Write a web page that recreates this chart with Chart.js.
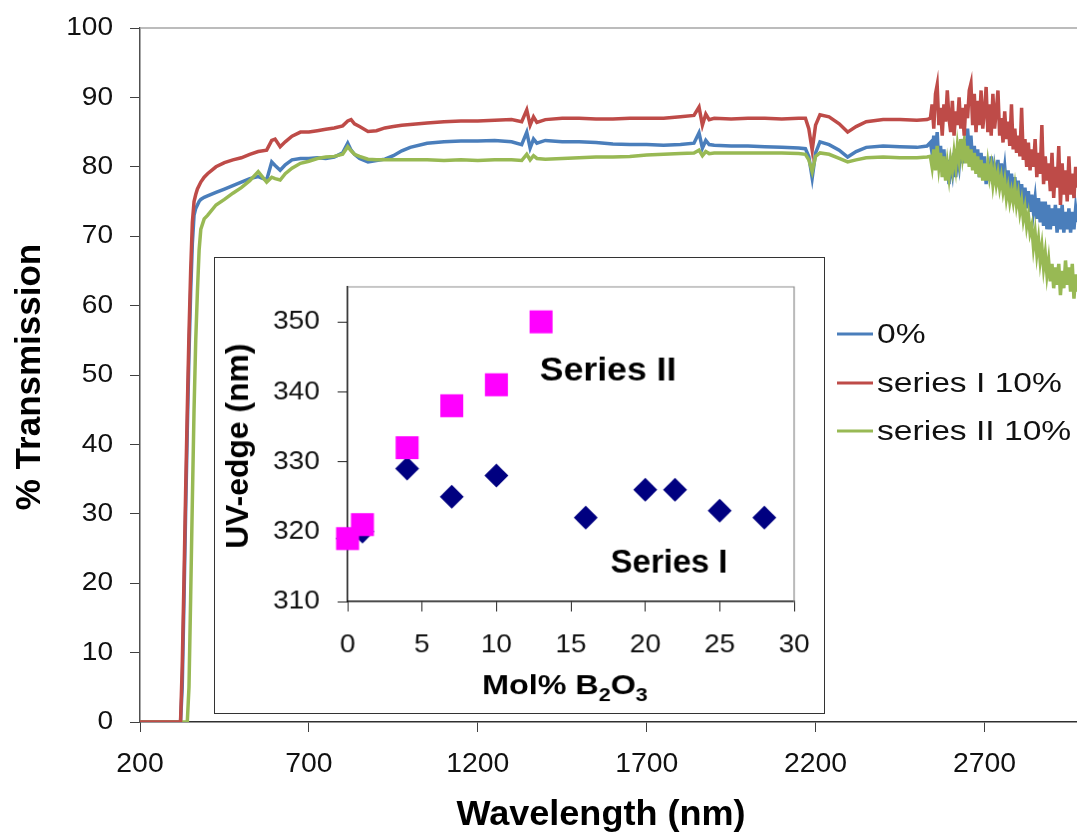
<!DOCTYPE html>
<html><head><meta charset="utf-8">
<script src="https://cdn.jsdelivr.net/npm/chart.js@4.4.1/dist/chart.umd.min.js"></script>
<style>
html,body{margin:0;padding:0;background:#fff;overflow:hidden}
#wrap{position:relative;width:1077px;height:838px;background:#fff}
#main{position:absolute;left:0;top:0}
#inset{position:absolute;left:214px;top:257px;border:1px solid #333;background:#fff}
</style></head><body>
<div id="wrap"><canvas id="main" width="1077" height="838"></canvas><canvas id="inset" width="611" height="457"></canvas></div>
<script>
// ---------- DATA ----------
const wavelengths = [
 200,250,300,310,320,325,330,335,340,345,
 350,355,360,365,370,375,380,390,400,425,
 450,475,500,525,550,575,590,600,615,630,
 650,675,700,725,750,775,800,815,825,835,
 850,875,900,925,950,975,1000,1050,1100,1150,
 1200,1250,1300,1330,1345,1355,1365,1375,1400,1450,
 1500,1550,1600,1650,1700,1750,1800,1840,1855,1865,
 1875,1885,1900,1950,2000,2050,2100,2150,2170,2180,
 2190,2200,2213,2240,2270,2295,2320,2350,2400,2450,
 2500,2530,
 2540,2545,2550,2555,2560,2565,2570,2575,2580,2585,
 2590,2595,2600,2605,2610,2615,2620,2625,2630,2635,
 2640,2645,2650,2655,2660,2665,2670,2675,2680,2685,
 2690,2695,2700,2705,2710,2715,2720,2725,2730,2735,
 2740,2745,2750,2755,2760,2765,2770,2775,2780,2785,
 2790,2795,2800,2805,2810,2815,2820,2825,2830,2835,
 2840,2845,2850,2855,2860,2865,2870,2875,2880,2885,
 2890,2895,2900,2905,2910,2915,2920,2925,2930,2935,
 2940,2945,2950,2955,2960,2965,2970,2975
];
const trans0 = [ // 0%
 0,0,0,0,0,5,17,30,42,53,
 62,69,73,74,74.5,75,75.3,75.6,75.8,76.3,
 76.8,77.3,77.8,78.3,78.6,78.1,80.7,80.2,79.5,80.3,
 81,81.2,81.2,81.3,81.2,81.4,82,83.4,82.4,81.8,
 81.2,80.7,80.9,81.1,81.6,82.3,82.8,83.4,83.6,83.7,
 83.7,83.8,83.6,83.2,85,82.7,84,83.4,83.8,83.6,
 83.6,83.5,83.3,83.2,83.2,83.1,83.2,83.4,84.9,82.7,
 83.8,83.2,83.1,83,83,82.9,82.8,82.7,82.6,81.5,
 78.4,82,83.6,83.2,82.4,81.4,82.2,82.8,83,82.9,
 82.8,83,
 83.5,82,84.5,81.5,85,80.5,83,79.5,82.5,78.5,
 81,77.5,80.5,79,82,78.5,81.5,80,83,80.5,
 84,81,85.5,82,84.5,80.5,83,79.5,82.5,78.5,
 82,79,81.5,77.5,80.5,78,81.5,77.5,80,78.5,
 81,77,80.5,78,80,77,79.5,76.5,79,76,
 78.5,75.5,78,75,77.5,74.5,77,74,76.5,73.5,
 76,73.5,75.5,72.5,75.5,72,75,71.5,75,71,
 74.5,71,74,71.5,74.5,70.5,74,71,74.5,70.5,
 73.5,71,74,70.5,73.5,71,74,72
];
const transSeriesI = [ // series I 10%
 0,0,0,0,0,8,20,33,45,56,
 65,72,75,76,76.8,77.3,77.8,78.5,79,80,
 80.6,81,81.3,81.8,82.2,82.4,83.8,84,82.9,83.6,
 84.4,85,85,85.2,85.4,85.6,85.9,86.6,86.8,86.2,
 85.8,85.1,85.2,85.6,85.8,86,86.1,86.3,86.5,86.6,
 86.6,86.7,86.8,86.5,88.2,86,87.2,86.4,86.8,87,
 87,86.9,86.9,87,87,87,87.2,87.4,88.6,86,
 87.6,86.8,87,86.9,87,87,86.9,87,87,85.5,
 82.4,86,87.5,87.2,86.2,85,85.8,86.5,86.8,86.8,
 86.7,86.8,
 87,89,85.5,90.5,91.8,86,88.5,84.5,89,86.5,
 91,87,85,89.5,84.5,88,86,90,85.5,88.5,
 84.5,89,87,91,92,86,90.5,85,89.5,86,
 91,85.5,88,91.5,85,89,84.5,90.5,85.5,88,
 91,84.5,87,83.5,88,84,86.5,83,89,82.5,
 85.5,82,84.5,81.5,88.5,81,84,80,83.5,79.5,
 82.5,80,84,78.5,82,79,86,77.5,81.5,78,
 80.5,76.5,82,75.5,80,77,83,74.5,80.5,76,
 79.5,75,81.5,76,79,75.5,80,77
];
const transSeriesII = [ // series II 10%
 0,0,0,0,0,0,0,0,0,5,
 18,32,45,55,62,68,71,72.5,73,74.5,
 75.3,76.2,77,78,79.3,77.8,78.5,78.3,78.1,79,
 79.8,80.5,80.8,81.2,81.4,81.5,81.8,82.9,82.3,81.8,
 81.5,81.1,81,81,81,81,81,81,80.9,81,
 80.9,81,81,80.9,81.8,81,81.6,81.2,81.1,81.2,
 81.3,81.4,81.4,81.5,81.7,81.8,81.9,82,82.4,81.6,
 82.2,81.9,82,82,82,82,82,81.9,81.8,81,
 79.3,81.5,82,81.8,81.2,80.7,81,81.3,81.4,81.3,
 81.3,81.4,
 81.5,80,82.5,79.5,83,80,82,78.5,81.5,78,
 80.5,78.5,81,79.5,82,80,83,81,84,81.5,
 83.5,80.5,83,80,82.5,79.5,82,79,81.5,78.5,
 81,78,80.5,78,80.5,78.5,80,77.5,79.5,77.5,
 79,77,78.5,76.5,78,75.5,77,75,76.5,75,
 77,74.5,76,73.5,75,72.5,74,71.5,73,70.5,
 71.5,68.5,70.5,67.5,69.5,66.5,68.5,65.5,67.5,64.5,
 66.5,63.5,66,62.5,65.5,63,66,61.5,65,62.5,
 66.5,63,65.5,62,66,61,64.5,62
];
const legendLabels = ['0%','series I 10%','series II 10%'];
const xTickValues = [200,700,1200,1700,2200,2700];
const yTickValues = [0,10,20,30,40,50,60,70,80,90,100];

// inset data
const molSeriesI = [0,1,4,7,10,16,20,22,25,28];
const uvSeriesI  = [319,320,329,325,328,322,326,326,323,322];
const molSeriesII = [0,1,4,7,10,13];
const uvSeriesII  = [319,321,332,338,341,350];
const insetXTicks = [0,5,10,15,20,25,30];
const insetYTicks = [310,320,330,340,350];

// ---------- STYLE ----------
const FONT = '"Liberation Sans", Arial, Helvetica, sans-serif';
const C_BLUE = '#4A7EBB', C_RED = '#BE4B48', C_GREEN = '#98B954';
const legendColors = [C_BLUE, C_RED, C_GREEN];

function drawText(ctx, txt, x, y, o) {
  ctx.save();
  ctx.font = (o.bold ? 'bold ' : '') + o.size + 'px ' + FONT;
  ctx.fillStyle = o.color || '#000';
  ctx.textAlign = o.align || 'center';
  ctx.textBaseline = 'middle';
  ctx.translate(x, y);
  if (o.rot) ctx.rotate(o.rot);
  ctx.scale(o.sx || 1, 1);
  ctx.fillText(txt, 0, 0);
  ctx.restore();
}
function pts(xs, ys) { return xs.map((x, i) => ({x: x, y: ys[i]})); }

// ---------- MAIN CHART ----------
const mainDecor = {
  id: 'mainDecor',
  afterDraw(chart) {
    const ctx = chart.ctx, a = chart.chartArea;
    const xs = chart.scales.x, ys = chart.scales.y;
    ctx.save();
    ctx.strokeStyle = '#a6a6a6'; ctx.lineWidth = 1.5;
    ctx.beginPath(); ctx.moveTo(a.left, a.top); ctx.lineTo(a.right, a.top); ctx.stroke();
    ctx.restore();
    xTickValues.forEach(v => drawText(ctx, String(v), xs.getPixelForValue(v), 765, {size: 27, sx: 1.05, color: '#111'}));
    yTickValues.forEach(v => drawText(ctx, String(v), 113, ys.getPixelForValue(v), {size: 26, sx: 1.08, align: 'right', color: '#111'}));
    drawText(ctx, 'Wavelength (nm)', 601, 815, {size: 35, bold: true, sx: 1.03});
    drawText(ctx, '% Transmission', 30, 377, {size: 35, bold: true, rot: -Math.PI / 2});
    const rowsY = [334, 383, 431];
    legendLabels.forEach((lab, i) => {
      ctx.save();
      ctx.strokeStyle = legendColors[i]; ctx.lineWidth = 3;
      ctx.beginPath(); ctx.moveTo(837, rowsY[i]); ctx.lineTo(873, rowsY[i]); ctx.stroke();
      ctx.restore();
      drawText(ctx, lab, 877, rowsY[i] + 1, {size: 28, sx: 1.2, align: 'left', color: '#111'});
    });
  }
};

const lineDs = (label, ys, color) => ({
  label: label, data: pts(wavelengths, ys), borderColor: color, borderWidth: 3.5,
  pointRadius: 0, tension: 0, fill: false
});

new Chart(document.getElementById('main'), {
  type: 'line',
  data: { datasets: [
    lineDs('series I 10%', transSeriesI, C_RED),
    lineDs('series II 10%', transSeriesII, C_GREEN),
    lineDs('0%', trans0, C_BLUE)
  ]},
  options: {
    responsive: false, animation: false, devicePixelRatio: 1,
    layout: { padding: { top: 28, right: 0, left: 0, bottom: 0 } },
    plugins: { legend: { display: false }, tooltip: { enabled: false } },
    scales: {
      x: {
        type: 'linear', min: 200, max: 2974,
        afterBuildTicks: s => { s.ticks = xTickValues.map(v => ({value: v})); },
        afterFit: s => { s.height = 116; },
        ticks: { display: false },
        grid: { drawOnChartArea: false, drawTicks: true, tickLength: 10, color: '#404040', lineWidth: 1 },
        border: { display: true, color: '#303030', width: 1.5 }
      },
      y: {
        type: 'linear', min: 0, max: 100,
        afterBuildTicks: s => { s.ticks = yTickValues.map(v => ({value: v})); },
        afterFit: s => { s.width = 140; },
        ticks: { display: false },
        grid: { drawOnChartArea: false, drawTicks: true, tickLength: 10, color: '#404040', lineWidth: 1 },
        border: { display: true, color: '#505050', width: 1.5 }
      }
    }
  },
  plugins: [mainDecor]
});

// ---------- INSET CHART ----------
const insetDecor = {
  id: 'insetDecor',
  afterDraw(chart) {
    const ctx = chart.ctx, a = chart.chartArea;
    const xs = chart.scales.x, ys = chart.scales.y;
    ctx.save();
    ctx.strokeStyle = '#8c8c8c'; ctx.lineWidth = 1.2;
    ctx.beginPath(); ctx.moveTo(a.left, a.top); ctx.lineTo(a.right, a.top); ctx.lineTo(a.right, a.bottom); ctx.stroke();
    ctx.restore();
    insetXTicks.forEach(v => drawText(ctx, String(v), xs.getPixelForValue(v), 389, {size: 26, sx: 1.08, color: '#111'}));
    insetYTicks.forEach(v => drawText(ctx, String(v), 105, ys.getPixelForValue(v), {size: 26, sx: 1.08, align: 'right', color: '#111'}));
    drawText(ctx, 'UV-edge (nm)', 24, 189, {size: 32, bold: true, rot: -Math.PI / 2});
    // Mol% B2O3 with subscripts
    const size = 27, sub = 18, sx = 1.2;
    const parts = [['Mol% B', 0], ['2', 1], ['O', 0], ['3', 1]];
    ctx.save();
    let total = 0;
    parts.forEach(p => { ctx.font = 'bold ' + (p[1] ? sub : size) + 'px ' + FONT; total += ctx.measureText(p[0]).width; });
    let x = (a.left + a.right) / 2 - 6 - total * sx / 2;
    parts.forEach(p => {
      ctx.font = 'bold ' + (p[1] ? sub : size) + 'px ' + FONT;
      const w = ctx.measureText(p[0]).width;
      drawText(ctx, p[0], x, 431 + (p[1] ? 9 : 0), {size: p[1] ? sub : size, bold: true, sx: sx, align: 'left'});
      x += w * sx;
    });
    ctx.restore();
    drawText(ctx, 'Series II', xs.getPixelForValue(17.5), ys.getPixelForValue(343), {size: 34, bold: true, sx: 1.05});
    drawText(ctx, 'Series I', xs.getPixelForValue(21.6), ys.getPixelForValue(315.4), {size: 33, bold: true, sx: 1.0});
  }
};

new Chart(document.getElementById('inset'), {
  type: 'scatter',
  data: { datasets: [
    { label: 'Series II', data: pts(molSeriesII, uvSeriesII), pointStyle: 'rect', pointRadius: 16.3,
      backgroundColor: '#FF00FF', borderWidth: 0, clip: false },
    { label: 'Series I', data: pts(molSeriesI, uvSeriesI), pointStyle: 'rectRot', pointRadius: 12,
      backgroundColor: '#000080', borderWidth: 0, clip: false }
  ]},
  options: {
    responsive: false, animation: false, devicePixelRatio: 1,
    layout: { padding: { top: 29, right: 30, left: 0, bottom: 0 } },
    plugins: { legend: { display: false }, tooltip: { enabled: false } },
    scales: {
      x: {
        type: 'linear', min: 0, max: 30,
        afterBuildTicks: s => { s.ticks = insetXTicks.map(v => ({value: v})); },
        afterFit: s => { s.height = 112; },
        ticks: { display: false },
        grid: { drawOnChartArea: false, drawTicks: true, tickLength: 10, color: '#202020', lineWidth: 1 },
        border: { display: true, color: '#101010', width: 1.5 }
      },
      y: {
        type: 'linear', min: 310, max: 355,
        afterBuildTicks: s => { s.ticks = insetYTicks.map(v => ({value: v})); },
        afterFit: s => { s.width = 133; },
        ticks: { display: false },
        grid: { drawOnChartArea: false, drawTicks: true, tickLength: 10, color: '#202020', lineWidth: 1 },
        border: { display: true, color: '#101010', width: 1.5 }
      }
    }
  },
  plugins: [insetDecor]
});
</script>
</body></html>
